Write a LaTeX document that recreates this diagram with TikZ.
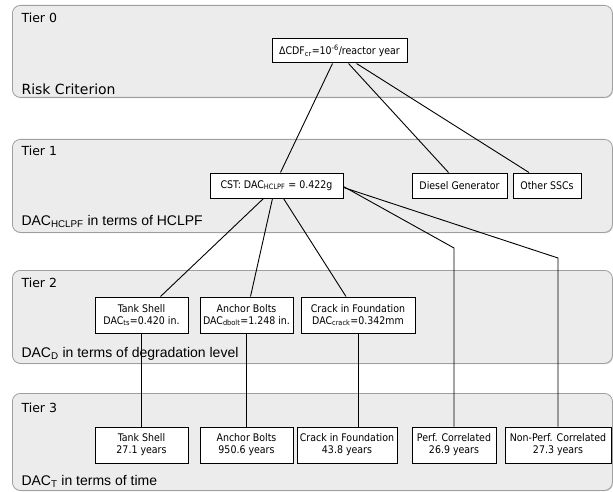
\documentclass[tikz,border=0pt]{standalone}
\usepackage{fontspec}
\setmainfont{DejaVu Sans}
\newfontfamily\condfont{DejaVu Sans Condensed}
\newfontfamily\arialfont{Liberation Sans}
\usetikzlibrary{positioning,calc,shadows}

\begin{document}
\begin{tikzpicture}[
  x=1pt, y=-1pt,
  every node/.style={font=\condfont\fontsize{10.5}{12}\selectfont},
  panel/.style={rectangle,draw=gray!75,fill=gray!15,rounded corners=8pt,anchor=north west,line width=0.8pt,minimum width=600pt,
    drop shadow={shadow xshift=0.6pt,shadow yshift=-0.8pt,opacity=0.45}},
  box/.style={rectangle,draw,fill=white,line width=1pt,align=center,inner sep=0pt,minimum height=36pt},
  tierlbl/.style={anchor=base west,font=\fontsize{12.5}{14}\selectfont},
  desc/.style={anchor=base west,font=\arialfont\fontsize{14}{16}\selectfont},
  link/.style={line width=0.9pt}
]
\useasboundingbox (0,0) rectangle (613,492);

% Tier panels
\node[panel, minimum height=92pt] (tier0) at (12,5) {};
\node[panel, minimum height=93pt] (tier1) at (12,139) {};
\node[panel, minimum height=93pt] (tier2) at (12,270) {};
\node[panel, minimum height=97pt] (tier3) at (12,393) {};

\node[tierlbl] (t0) at ($(tier0.north west)+(6,18)$) {Tier 0};
\node[tierlbl] (t1) at ($(tier1.north west)+(6,16)$) {Tier 1};
\node[tierlbl] (t2) at ($(tier2.north west)+(6,17)$) {Tier 2};
\node[tierlbl] (t3) at ($(tier3.north west)+(6,19)$) {Tier 3};

\node[anchor=base west, font=\fontsize{14}{16}\selectfont] (d0) at ($(tier0.south west)+(6,-3)$) {Risk Criterion};
\node[desc] (d1) at ($(tier1.south west)+(6,-7)$) {DAC\textsubscript{HCLPF} in terms of HCLPF};
\node[desc] (d2) at ($(tier2.south west)+(6,-6)$) {DAC\textsubscript{D} in terms of degradation level};
\node[desc] (d3) at ($(tier3.south west)+(6,-5)$) {DAC\textsubscript{T} in terms of time};

% Boxes
\node[box, minimum width=135pt, minimum height=24pt] (cdf) at (339.5,51) {ΔCDF\textsubscript{cr}=10\textsuperscript{-6}/reactor year};

\node[box, minimum width=133pt, minimum height=25pt] (cst) at (276.5,185.5) {CST: DAC\textsubscript{HCLPF} = 0.422g};
\node[box, minimum width=95pt, minimum height=25pt] (diesel) at (459.5,185.5) {Diesel Generator};
\node[box, minimum width=68pt, minimum height=25pt] (other) at (547,185.5) {Other SSCs};

\node[box, minimum width=93pt] (shell) at (141.5,315) {Tank Shell\\DAC\textsubscript{ts}=0.420 in.};
\node[box, minimum width=93pt] (bolts) at (246.5,315) {Anchor Bolts\\DAC\textsubscript{dbolt}=1.248 in.};
\node[box, minimum width=114pt] (crack) at (358,315) {Crack in Foundation\\DAC\textsubscript{crack}=0.342mm};

\node[box, minimum width=93pt] (shellT) at (141.5,445) {Tank Shell\\27.1 years};
\node[box, minimum width=93pt] (boltsT) at (246.5,445) {Anchor Bolts\\950.6 years};
\node[box, minimum width=100pt] (crackT) at (347,445) {Crack in Foundation\\43.8 years};
\node[box, minimum width=84pt] (perf) at (454,445) {Perf. Correlated\\26.9 years};
\node[box, minimum width=106pt] (nonperf) at (558,445) {Non-Perf. Correlated\\27.3 years};

% Connectors
\coordinate (bendP) at (454,248);
\coordinate (bendN) at (558,258);
\draw[link] ([xshift=-7pt]cdf.south) -- ([xshift=4pt]cst.north);
\draw[link] ([xshift=9pt]cdf.south) -- ([xshift=-11pt]diesel.north);
\draw[link] ([xshift=17pt]cdf.south) -- ([xshift=-18pt]other.north);
\draw[link] ([xshift=-13pt]cst.south) -- ([xshift=19pt]shell.north);
\draw[link] ([xshift=-4pt]cst.south) -- ([xshift=4pt]bolts.north);
\draw[link] ([xshift=7pt]cst.south) -- ([xshift=-12pt]crack.north);
\draw[link] ([yshift=-1pt]cst.east) -- (bendP) -- (perf.north);
\draw[link] ([yshift=-2pt]cst.east) -- (bendN) -- (nonperf.north);
\draw[link] (shell.south) -- (shellT.north);
\draw[link] (bolts.south) -- (boltsT.north);
\draw[link] (crack.south) -- (crack.south |- crackT.north);
\end{tikzpicture}
\end{document}
